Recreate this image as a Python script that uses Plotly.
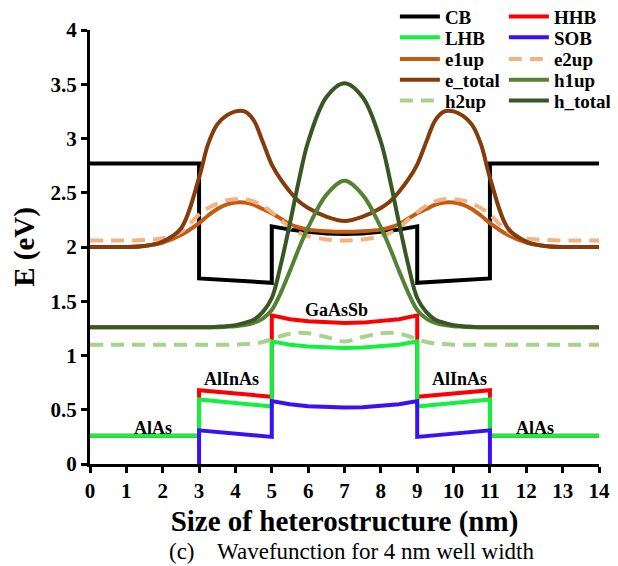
import plotly.graph_objects as go

# ---------------- data ----------------
# band-edge profiles (x in nm, E in eV)
x_band = [0, 3, 3, 5, 5, 5.5, 6, 6.5, 7, 7.5, 8, 8.5, 9, 9, 11, 11, 14]
cb  = [2.77, 2.77, 1.71, 1.67, 2.19, 2.16, 2.14, 2.125, 2.12, 2.125, 2.14, 2.16, 2.19, 1.67, 1.71, 2.77, 2.77]
hhb = [0.26, 0.26, 0.68, 0.62, 1.37, 1.335, 1.315, 1.303, 1.30, 1.303, 1.315, 1.335, 1.37, 0.62, 0.68, 0.26, 0.26]
lhb = [0.26, 0.26, 0.595, 0.53, 1.13, 1.10, 1.083, 1.073, 1.07, 1.073, 1.083, 1.10, 1.13, 0.53, 0.595, 0.26, 0.26]
sob = [-0.03, -0.03, 0.31, 0.25, 0.58, 0.55, 0.533, 0.523, 0.52, 0.523, 0.533, 0.55, 0.58, 0.25, 0.31, -0.03, -0.03]

# wavefunction profiles
x_wave = [0, 0.5, 1, 1.5, 2, 2.5, 3, 3.25, 3.5, 3.75, 4, 4.25, 4.5, 4.75, 5, 5.25, 5.5, 5.75, 6, 6.5, 7,
          7.5, 8, 8.25, 8.5, 8.75, 9, 9.25, 9.5, 9.75, 10, 10.25, 10.5, 10.75, 11, 11.5, 12, 12.5, 13, 13.5, 14]
e1up = [2.00, 2.00, 2.00, 2.01, 2.04, 2.11, 2.22, 2.29, 2.35, 2.39, 2.41, 2.41, 2.39, 2.35, 2.31, 2.26, 2.21, 2.18, 2.16, 2.145, 2.14,
        2.145, 2.16, 2.18, 2.21, 2.26, 2.31, 2.35, 2.39, 2.41, 2.41, 2.39, 2.35, 2.29, 2.22, 2.11, 2.04, 2.01, 2.00, 2.00, 2.00]
e2up = [2.06, 2.06, 2.06, 2.065, 2.08, 2.14, 2.30, 2.36, 2.40, 2.43, 2.44, 2.44, 2.42, 2.38, 2.32, 2.25, 2.18, 2.13, 2.10, 2.07, 2.06,
        2.07, 2.10, 2.13, 2.18, 2.25, 2.32, 2.38, 2.42, 2.44, 2.44, 2.43, 2.40, 2.36, 2.30, 2.14, 2.08, 2.065, 2.06, 2.06, 2.06]
e_total = [2.00, 2.00, 2.00, 2.01, 2.05, 2.17, 2.64, 2.95, 3.13, 3.21, 3.25, 3.25, 3.17, 2.97, 2.76, 2.62, 2.51, 2.42, 2.36, 2.28, 2.24,
           2.28, 2.36, 2.42, 2.51, 2.62, 2.76, 2.97, 3.17, 3.25, 3.25, 3.21, 3.13, 2.95, 2.64, 2.17, 2.05, 2.01, 2.00, 2.00, 2.00]
h1up = [1.26, 1.26, 1.26, 1.26, 1.26, 1.26, 1.26, 1.26, 1.26, 1.265, 1.27, 1.28, 1.30, 1.34, 1.42, 1.58, 1.78, 1.99, 2.18, 2.48, 2.61,
        2.48, 2.18, 1.99, 1.78, 1.58, 1.42, 1.34, 1.30, 1.28, 1.27, 1.265, 1.26, 1.26, 1.26, 1.26, 1.26, 1.26, 1.26, 1.26, 1.26]
h2up = [1.10, 1.10, 1.10, 1.10, 1.10, 1.10, 1.10, 1.10, 1.10, 1.10, 1.10, 1.105, 1.11, 1.125, 1.15, 1.18, 1.20, 1.21, 1.205, 1.17, 1.13,
        1.17, 1.205, 1.21, 1.20, 1.18, 1.15, 1.125, 1.11, 1.105, 1.10, 1.10, 1.10, 1.10, 1.10, 1.10, 1.10, 1.10, 1.10, 1.10, 1.10]
h_total = [1.26, 1.26, 1.26, 1.26, 1.26, 1.26, 1.26, 1.26, 1.265, 1.27, 1.28, 1.30, 1.33, 1.40, 1.53, 1.84, 2.22, 2.62, 2.97, 3.38, 3.51,
           3.38, 2.97, 2.62, 2.22, 1.84, 1.53, 1.40, 1.33, 1.30, 1.28, 1.27, 1.265, 1.26, 1.26, 1.26, 1.26, 1.26, 1.26, 1.26, 1.26]

x_ticks = list(range(0, 15))
y_ticks = [0, 0.5, 1, 1.5, 2, 2.5, 3, 3.5, 4]
y_tick_labels = ["0", "0.5", "1", "1.5", "2", "2.5", "3", "3.5", "4"]

region_labels = ["AlAs", "AlInAs", "GaAsSb", "AlInAs", "AlAs"]
region_x = [1.74, 3.89, 6.78, 10.16, 12.23]
region_y = [0.33, 0.78, 1.42, 0.78, 0.33]

caption = "(c)    Wavefunction for 4 nm well width"

# ---------------- styling ----------------
FONT = "Liberation Serif, Times New Roman, serif"
legend_rows = [["CB", "HHB"], ["LHB", "SOB"], ["e1up", "e2up"], ["e_total", "h1up"], ["h2up", "h_total"]]
legend_of = {}
for i, row in enumerate(legend_rows):
    for name in row:
        legend_of[name] = "legend" if i == 0 else f"legend{i+1}"

series = [
    ("CB", x_band, cb, "#000000", None, "linear"),
    ("HHB", x_band, hhb, "#FF0000", None, "linear"),
    ("LHB", x_band, lhb, "#12F040", None, "linear"),
    ("SOB", x_band, sob, "#3B10F5", None, "linear"),
    ("e1up", x_wave, e1up, "#C55A11", None, "spline"),
    ("e2up", x_wave, e2up, "#F4B183", "13px,8px", "spline"),
    ("e_total", x_wave, e_total, "#843C0C", None, "spline"),
    ("h1up", x_wave, h1up, "#548235", None, "spline"),
    ("h2up", x_wave, h2up, "#A9D18E", "13px,8px", "spline"),
    ("h_total", x_wave, h_total, "#385723", None, "spline"),
]

fig = go.Figure()
for name, xs, ys, color, dash, shape in series:
    line = dict(color=color, width=4, shape=shape)
    if dash:
        line["dash"] = dash
    fig.add_trace(go.Scatter(x=xs, y=ys, mode="lines", name=name, line=line,
                             legend=legend_of[name]))

for txt, xx, yy in zip(region_labels, region_x, region_y):
    fig.add_annotation(x=xx, y=yy, text=txt, showarrow=False,
                       font=dict(family=FONT, size=18, color="black", weight="bold"))

fig.add_annotation(x=0.513, y=-0.2005, xref="paper", yref="paper", text=caption, showarrow=False,
                   xanchor="center", yanchor="middle",
                   font=dict(family=FONT, size=23, color="black"))

row_y = [1.0306, 0.983, 0.933, 0.885, 0.837]
legends = {}
for i in range(5):
    key = "legend" if i == 0 else f"legend{i+1}"
    legends[key] = dict(orientation="h", x=0.599, xanchor="left", y=row_y[i], yanchor="middle",
                        font=dict(family=FONT, size=19, color="black", weight="bold"),
                        entrywidth=54, entrywidthmode="pixels", itemwidth=40,
                        bgcolor="rgba(0,0,0,0)", borderwidth=0, tracegroupgap=0)

# the page body adds an 8px offset; size the figure so the plot area lands where the reference has it
fig.update_layout(
    width=610, height=558,
    margin=dict(l=82, r=19, t=22, b=102, autoexpand=False),
    paper_bgcolor="white", plot_bgcolor="white",
    showlegend=True,
    font=dict(family=FONT, color="black"),
    xaxis=dict(range=[0, 14], tickvals=x_ticks, ticktext=[str(v) for v in x_ticks],
               showline=True, linewidth=3, linecolor="black", ticks="outside", ticklen=6, tickwidth=3,
               tickcolor="black", showgrid=False, zeroline=False, layer="above traces",
               tickfont=dict(family=FONT, size=21, color="black", weight="bold"),
               title=dict(text="Size of heterostructure (nm)", standoff=9,
                          font=dict(family=FONT, size=29, color="black", weight="bold"))),
    yaxis=dict(range=[0, 4], tickvals=y_ticks, ticktext=y_tick_labels,
               showline=True, linewidth=3, linecolor="black", ticks="outside", ticklen=6, tickwidth=3,
               tickcolor="black", showgrid=False, zeroline=False, layer="above traces",
               tickfont=dict(family=FONT, size=21, color="black", weight="bold"),
               title=dict(text="E (eV)", standoff=8,
                          font=dict(family=FONT, size=29, color="black", weight="bold"))),
    **legends,
)

fig.write_html("out.html")
